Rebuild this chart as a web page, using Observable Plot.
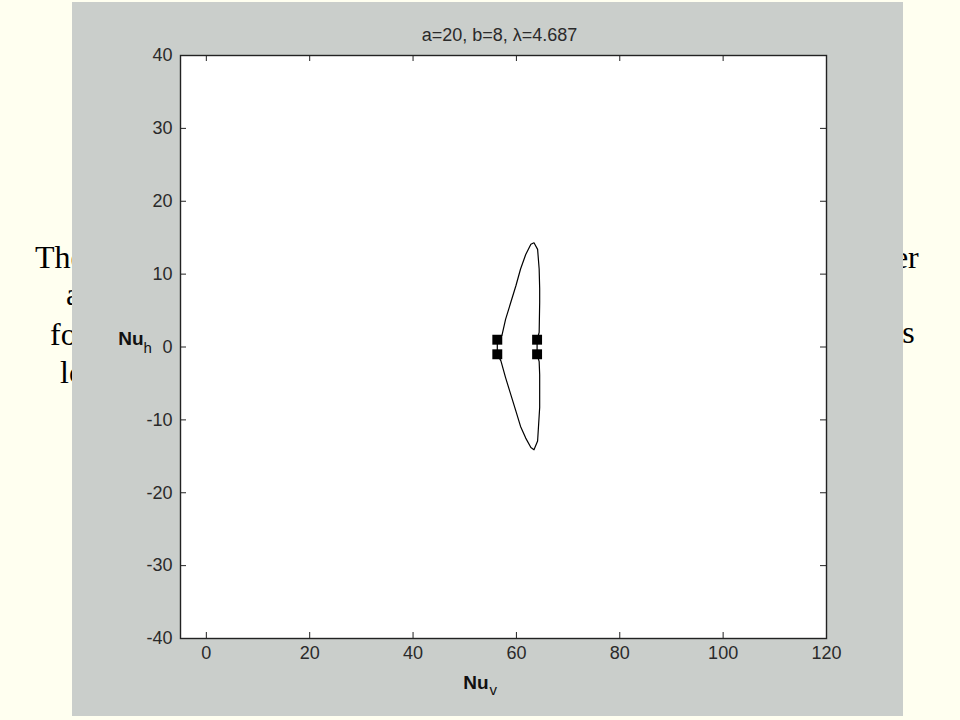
<!DOCTYPE html>
<html><head><meta charset="utf-8">
<script src="https://cdn.jsdelivr.net/npm/d3@7"></script>
<script src="https://cdn.jsdelivr.net/npm/@observablehq/plot@0.6"></script>
<style>
html,body{margin:0;padding:0;background:#FFFFF0;width:960px;height:720px;overflow:hidden;}
.slide{position:absolute;font-family:'Liberation Serif','Times New Roman',serif;font-size:32px;line-height:32px;color:#000;white-space:nowrap;}
#win{position:absolute;left:72px;top:2px;width:831px;height:714px;background:#CACECB;}
</style></head><body>
<div class="slide" style="left:35px;top:241px">The</div>
<div class="slide" style="left:66px;top:278px">an</div>
<div class="slide" style="left:50px;top:318px">for</div>
<div class="slide" style="left:60px;top:356px">lo</div>
<div class="slide" style="left:885px;top:241px">ter</div>
<div class="slide" style="left:888px;top:316px">es</div>
<div id="win"></div>
<script>
const titleText = "a=20, b=8, λ=4.687";
const xLabel = "Nu", xSub = "v";
const yLabel = "Nu", ySub = "h";
const xTicks = [0, 20, 40, 60, 80, 100, 120];
const yTicks = [-40, -30, -20, -10, 0, 10, 20, 30, 40];
// closed curve (Nu_v, Nu_h)
const curveNuV = [56.3, 57.2, 57.9, 58.9, 59.9, 60.8, 61.8, 62.8, 63.4, 64.1, 64.4, 64.5, 64.5, 64.4, 64.0,
                  64.0, 64.4, 64.5, 64.5, 64.1, 63.4, 62.8, 61.8, 60.8, 59.9, 58.9, 57.9, 57.0, 56.3, 56.3];
const curveNuH = [1.0, 1.6, 3.8, 6.1, 8.4, 10.7, 12.7, 14.1, 14.3, 13.4, 10.7, 8.0, 6.1, 2.0, 1.0,
                  -1.0, -2.0, -3.8, -8.3, -12.9, -14.1, -13.8, -12.5, -10.9, -8.8, -6.5, -4.2, -1.9, -1.0, 1.0];
const markNuV = [56.3, 56.3, 64.0, 64.0];
const markNuH = [1.0, -1.0, 1.0, -1.0];

const curve = curveNuV.map((v, i) => ({v, h: curveNuH[i]}));
const marks = markNuV.map((v, i) => ({v, h: markNuH[i]}));

const W = 831, H = 714, mL = 108, mR = 77, mT = 53, mB = 78;
const iw = W - mL - mR, ih = H - mT - mB, tk = 6;
const ink = "#222";
const fmt = d => String(d);

const chart = Plot.plot({
  width: W, height: H,
  marginLeft: mL, marginRight: mR, marginTop: mT, marginBottom: mB,
  style: {background: "#CACECB", fontFamily: "'Liberation Sans', Arial, sans-serif", fontSize: "18px", color: "#2a2a2a"},
  x: {domain: [-5, 120], ticks: xTicks, label: null},
  y: {domain: [-40, 40], ticks: yTicks, label: null},
  marks: [
    Plot.frame({fill: "white", stroke: "none"}),
    Plot.axisX({ticks: xTicks, tickFormat: fmt, tickSize: 0, tickPadding: 8, label: null, fontSize: 18}),
    Plot.axisY({ticks: yTicks, tickFormat: fmt, tickSize: 0, tickPadding: 8, label: null, fontSize: 18}),
    Plot.ruleX(xTicks, {x: d => d, insetTop: ih - tk, stroke: ink}),
    Plot.ruleX(xTicks, {x: d => d, insetBottom: ih - tk, stroke: ink}),
    Plot.ruleY(yTicks, {y: d => d, insetRight: iw - tk, stroke: ink}),
    Plot.ruleY(yTicks, {y: d => d, insetLeft: iw - tk, stroke: ink}),
    Plot.frame({stroke: ink, strokeWidth: 1.4}),
    Plot.line(curve, {x: "v", y: "h", stroke: "black", strokeWidth: 1.2}),
    Plot.dot(marks, {x: "v", y: "h", symbol: "square", r: 5.6, fill: "black", stroke: "none"}),
    Plot.text([titleText], {frameAnchor: "top", dy: -20, dx: -4, fontSize: 18, fill: "#2a2a2a", lineAnchor: "middle"}),
    Plot.text([xLabel], {frameAnchor: "bottom", textAnchor: "end", dx: -15, dy: 44, fontSize: 19, fontWeight: "bold", fill: "#111", lineAnchor: "middle"}),
    Plot.text([xSub], {frameAnchor: "bottom", textAnchor: "start", dx: -14, dy: 52, fontSize: 15, fill: "#111", lineAnchor: "middle"}),
    Plot.text([yLabel], {frameAnchor: "left", textAnchor: "end", dx: -37, dy: -8, fontSize: 19, fontWeight: "bold", fill: "#111", lineAnchor: "middle"}),
    Plot.text([ySub], {frameAnchor: "left", textAnchor: "start", dx: -37, dy: 1, fontSize: 15, fill: "#111", lineAnchor: "middle"})
  ]
});
document.getElementById("win").append(chart);
</script>
</body></html>
